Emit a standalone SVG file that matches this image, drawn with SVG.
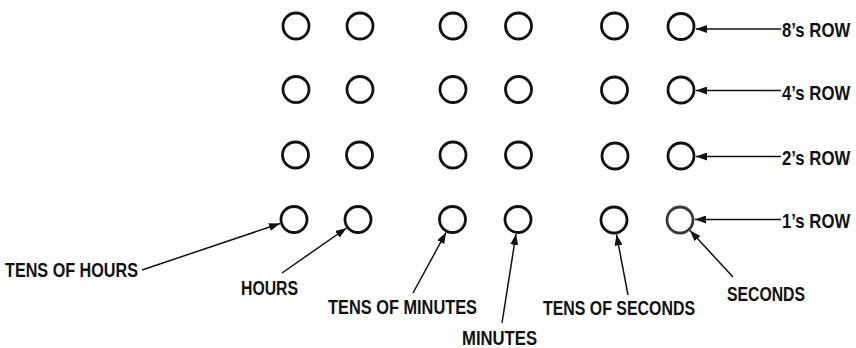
<svg xmlns="http://www.w3.org/2000/svg" width="856" height="348" viewBox="0 0 856 348">
<style>
.lamp{fill:none;stroke:#111;stroke-width:2.8}
.dim{fill:none;stroke:#3a3a3a;stroke-width:2.8}
.lbl{font-family:"Liberation Sans",Arial,sans-serif;font-size:19.5px;font-weight:bold;fill:#111}
.con{stroke:#111;stroke-width:1.5;fill:none;marker-end:url(#ah)}
</style>
<defs>
<marker id="ah" markerUnits="userSpaceOnUse" markerWidth="12" markerHeight="8" refX="11" refY="4" orient="auto">
<path d="M0,0 L11,4 L0,8 z" fill="#111"/>
</marker>
</defs>
<rect width="856" height="348" fill="#fff"/>
<g id="row8">
<g id="c-8-1"><circle class="lamp" cx="296" cy="26" r="13"/></g>
<g id="c-8-2"><circle class="lamp" cx="360" cy="26" r="13"/></g>
<g id="c-8-3"><circle class="lamp" cx="453" cy="26" r="13"/></g>
<g id="c-8-4"><circle class="lamp" cx="518.5" cy="26" r="13"/></g>
<g id="c-8-5"><circle class="lamp" cx="614.5" cy="26" r="13"/></g>
<g id="c-8-6"><circle class="lamp" cx="681" cy="26.5" r="13"/></g>
</g>
<g id="row4">
<g id="c-4-1"><circle class="lamp" cx="296" cy="89.5" r="13"/></g>
<g id="c-4-2"><circle class="lamp" cx="360" cy="89.5" r="13"/></g>
<g id="c-4-3"><circle class="lamp" cx="453" cy="89.5" r="13"/></g>
<g id="c-4-4"><circle class="lamp" cx="518.5" cy="89.5" r="13"/></g>
<g id="c-4-5"><circle class="lamp" cx="614.5" cy="90" r="13"/></g>
<g id="c-4-6"><circle class="lamp" cx="681" cy="90" r="13"/></g>
</g>
<g id="row2">
<g id="c-2-1"><circle class="lamp" cx="295.5" cy="155" r="13"/></g>
<g id="c-2-2"><circle class="lamp" cx="359.5" cy="155" r="13"/></g>
<g id="c-2-3"><circle class="lamp" cx="453" cy="155" r="13"/></g>
<g id="c-2-4"><circle class="lamp" cx="518.5" cy="155" r="13"/></g>
<g id="c-2-5"><circle class="lamp" cx="615" cy="156" r="13"/></g>
<g id="c-2-6"><circle class="lamp" cx="681" cy="156" r="13"/></g>
</g>
<g id="row1">
<g id="c-1-1"><circle class="lamp" cx="294" cy="219.5" r="13"/></g>
<g id="c-1-2"><circle class="lamp" cx="358" cy="219.5" r="13"/></g>
<g id="c-1-3"><circle class="lamp" cx="452.5" cy="219.5" r="13"/></g>
<g id="c-1-4"><circle class="lamp" cx="518" cy="219.5" r="13"/></g>
<g id="c-1-5"><circle class="lamp" cx="614" cy="220" r="13"/></g>
<g id="c-1-6"><circle class="dim" cx="680" cy="220" r="13"/></g>
</g>
<g id="connectors">
<line class="con" x1="781" y1="29" x2="696" y2="29"/>
<line class="con" x1="781" y1="90.5" x2="696" y2="90.5"/>
<line class="con" x1="781" y1="156.5" x2="696" y2="156.5"/>
<line class="con" x1="781" y1="219.5" x2="695" y2="219.5"/>
<line class="con" x1="142" y1="270" x2="280" y2="223.5"/>
<line class="con" x1="282" y1="273" x2="346.5" y2="228"/>
<line class="con" x1="413" y1="293" x2="446" y2="232.5"/>
<line class="con" x1="502" y1="323" x2="516" y2="234"/>
<line class="con" x1="628" y1="295" x2="616.5" y2="234.5"/>
<line class="con" x1="733" y1="277" x2="690" y2="230.5"/>
</g>
<g id="lbl-8"><text class="lbl" transform="translate(782 36.7) scale(0.86 1)" x="0" y="0">8’s ROW</text></g>
<g id="lbl-4"><text class="lbl" transform="translate(782 100) scale(0.86 1)" x="0" y="0">4’s ROW</text></g>
<g id="lbl-2"><text class="lbl" transform="translate(782 165) scale(0.86 1)" x="0" y="0">2’s ROW</text></g>
<g id="lbl-1"><text class="lbl" transform="translate(782 228) scale(0.86 1)" x="0" y="0">1’s ROW</text></g>
<g id="lbl-tens-hours"><text class="lbl" x="5" y="277" textLength="133" lengthAdjust="spacingAndGlyphs">TENS OF HOURS</text></g>
<g id="lbl-hours"><text class="lbl" x="241" y="295" textLength="57" lengthAdjust="spacingAndGlyphs">HOURS</text></g>
<g id="lbl-tens-minutes"><text class="lbl" x="328" y="314" textLength="149" lengthAdjust="spacingAndGlyphs">TENS OF MINUTES</text></g>
<g id="lbl-minutes"><text class="lbl" x="462" y="345" textLength="75" lengthAdjust="spacingAndGlyphs">MINUTES</text></g>
<g id="lbl-tens-seconds"><text class="lbl" x="543" y="315" textLength="152" lengthAdjust="spacingAndGlyphs">TENS OF SECONDS</text></g>
<g id="lbl-seconds"><text class="lbl" x="727" y="301" textLength="78" lengthAdjust="spacingAndGlyphs">SECONDS</text></g>
</svg>
